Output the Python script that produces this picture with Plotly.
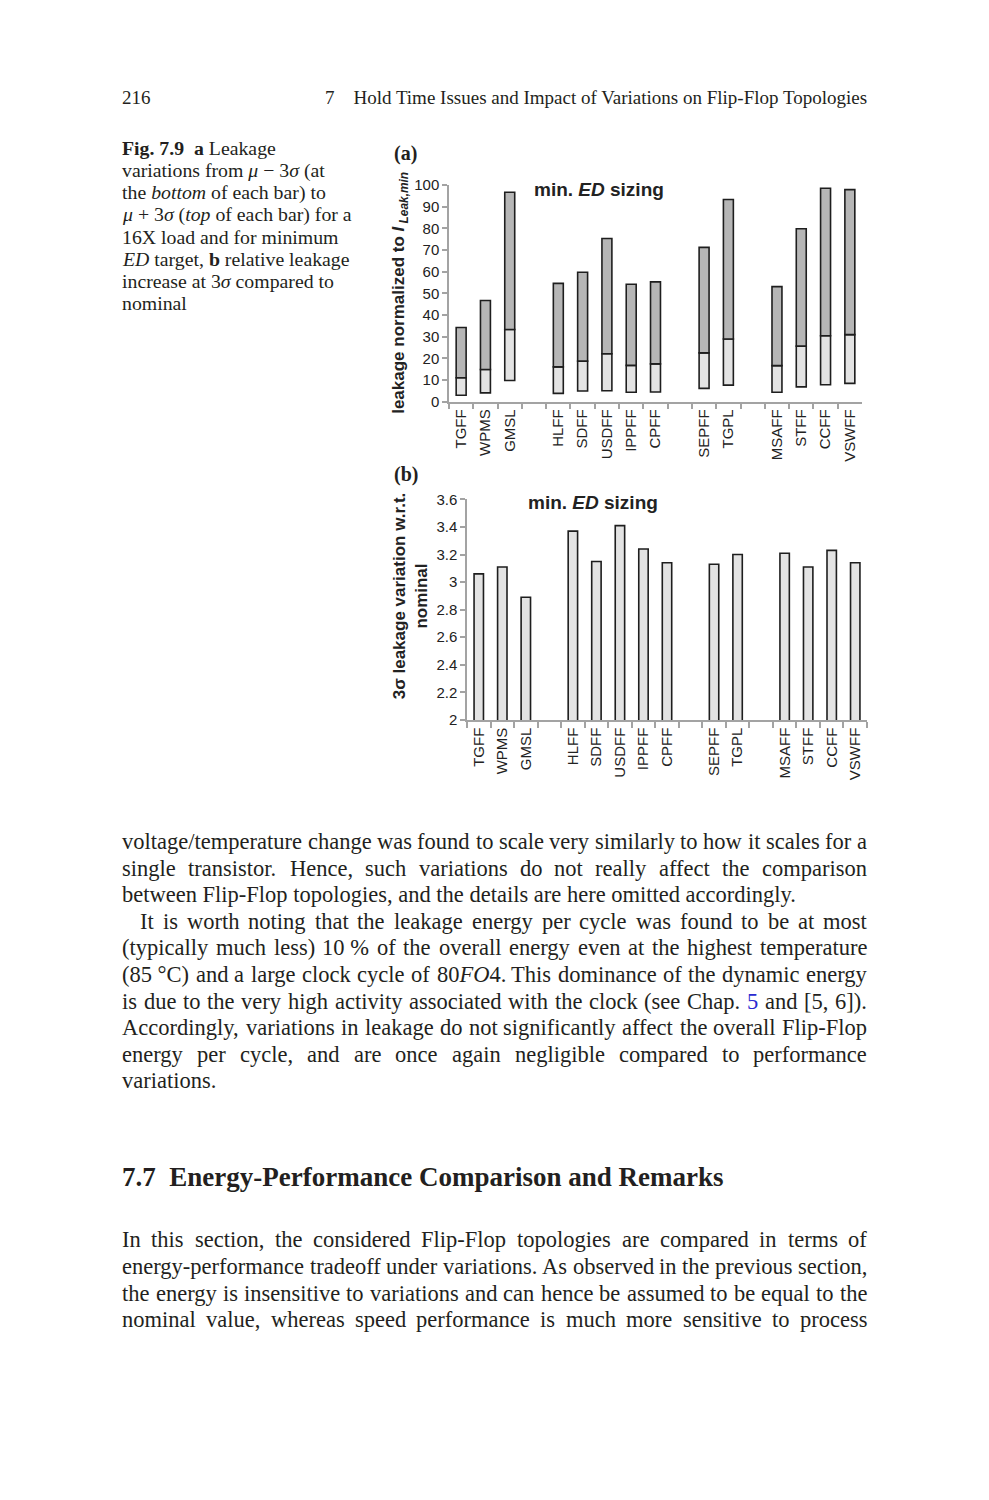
import re
import plotly.graph_objects as go

# category slots (blank slots are the gaps between flip-flop families)
slots = ["TGFF", "WPMS", "GMSL", " ",
         "HLFF", "SDFF", "USDFF", "IPPFF", "CPFF", "  ",
         "SEPFF", "TGPL", "   ",
         "MSAFF", "STFF", "CCFF", "VSWFF"]

# (a) leakage normalized to I_Leak,min : mu-3sigma / nominal / mu+3sigma
leak_low = [2.9, 4.0, 9.7, None, 3.8, 4.9, 5.0, 4.3, 4.4, None, 6.1, 7.6, None, 4.3, 6.8, 7.8, 8.4]
leak_nom = [11.0, 14.8, 33.3, None, 16.0, 18.7, 22.1, 16.7, 17.4, None, 22.5, 28.9, None, 16.6, 25.6, 30.4, 30.9]
leak_high = [34.2, 46.7, 96.7, None, 54.6, 59.7, 75.3, 54.2, 55.3, None, 71.2, 93.3, None, 53.1, 79.8, 98.5, 97.9]

# (b) 3 sigma leakage variation w.r.t. nominal
ratio_3s = [3.06, 3.11, 2.89, None, 3.37, 3.15, 3.41, 3.24, 3.14, None, 3.13, 3.20, None, 3.21, 3.11, 3.23, 3.14]

low_seg = [None if a is None else round(b - a, 2) for a, b in zip(leak_low, leak_nom)]
high_seg = [None if a is None else round(b - a, 2) for a, b in zip(leak_nom, leak_high)]

# page text
header_left = "216"
header_right = "7\u2003Hold Time Issues and Impact of Variations on Flip-Flop Topologies"
caption = [
    "<b>Fig. 7.9</b>\u2002<b>a</b> Leakage",
    "variations from <i>\u03bc</i> \u2212 3<i>\u03c3</i> (at",
    "the <i>bottom</i> of each bar) to",
    "<i>\u03bc</i> + 3<i>\u03c3</i> (<i>top</i> of each bar) for a",
    "16X load and for minimum",
    "<i>ED</i> target, <b>b</b> relative leakage",
    "increase at 3<i>\u03c3</i> compared to",
    "nominal",
]
# (text, justified, indented)
para1 = [
    ("voltage/temperature change was found to scale very similarly to how it scales for a", True, False),
    ("single transistor. Hence, such variations do not really affect the comparison", True, False),
    ("between Flip-Flop topologies, and the details are here omitted accordingly.", False, False),
    ("It is worth noting that the leakage energy per cycle was found to be at most", True, True),
    ("(typically much less) 10\u00a0% of the overall energy even at the highest temperature", True, False),
    ("(85\u00a0\u00b0C) and a large clock cycle of 80<i>FO</i>4. This dominance of the dynamic energy", True, False),
    ("is due to the very high activity associated with the clock (see Chap. <span style='color:#2a2ad0'>5</span> and [5, 6]).", True, False),
    ("Accordingly, variations in leakage do not significantly affect the overall Flip-Flop", True, False),
    ("energy per cycle, and are once again negligible compared to performance", True, False),
    ("variations.", False, False),
]
heading = "7.7\u2002Energy-Performance Comparison and Remarks"
para2 = [
    ("In this section, the considered Flip-Flop topologies are compared in terms of", True, False),
    ("energy-performance tradeoff under variations. As observed in the previous section,", True, False),
    ("the energy is insensitive to variations and can hence be assumed to be equal to the", True, False),
    ("nominal value, whereas speed performance is much more sensitive to process", True, False),
]

# the html body keeps its 8px margin, so the figure starts 8px in
OFF = 8
W, H = 989 - OFF, 1500 - OFF
SERIF = "Liberation Serif"
SANS = "Liberation Sans"
INK = "#231f20"
AXIS = "#a3a3a3"

# Times-compatible advance widths (per 1000 em) for justifying body lines
tw = {" ": 250, "\u00a0": 250, ".": 250, ",": 250, "-": 333, "/": 278, "(": 333, ")": 333,
      "[": 333, "]": 333, "%": 833, "\u00b0": 400, ":": 278, ";": 278}
tw.update(zip("abcdefghijklmnopqrstuvwxyz",
              [444, 500, 444, 500, 444, 333, 500, 500, 278, 278, 500, 278, 778,
               500, 500, 500, 500, 333, 389, 278, 500, 500, 722, 500, 500, 444]))
tw.update(zip("ABCDEFGHIJKLMNOPQRSTUVWXYZ",
              [722, 667, 667, 722, 611, 556, 722, 722, 333, 389, 722, 611, 889,
               722, 722, 556, 722, 667, 556, 611, 722, 722, 944, 722, 722, 611]))
tw.update({d: 500 for d in "0123456789"})


def text_w(s, size):
    plain = re.sub(r"<[^>]+>", "", s)
    return sum(tw.get(c, 500) for c in plain) * size / 1000.0


def px(x, y):
    # screen pixel -> paper coordinates
    return (x - OFF) / W, 1 - (y - OFF) / H


def xdom(a, b):
    return [(a - OFF) / W, (b - OFF) / W]


def ydom(top, bottom):
    return [1 - (bottom - OFF) / H, 1 - (top - OFF) / H]


annotations = []


def put(x, y, text, size, font=SERIF, anchor="left", color=INK, **kw):
    xx, yy = px(x, y)
    annotations.append(dict(x=xx, y=yy, xref="paper", yref="paper", text=text, showarrow=False,
                            xanchor=anchor, yanchor="middle", borderpad=0, borderwidth=0,
                            font=dict(family=font, size=size, color=color), **kw))


def body(lines, top, gap=26.9, left=122, right=867, size=22.5, indent=18):
    for i, (line, just, ind) in enumerate(lines):
        y = top + i * gap
        x0 = left + (indent if ind else 0)
        if not just:
            put(x0, y, line, size)
            continue
        words = re.split(r" (?![^<]*>)", line)
        ws = [text_w(w, size) for w in words]
        sp = (right - x0 - sum(ws)) / (len(words) - 1)
        x = x0
        for w, wd in zip(words, ws):
            put(x, y, w, size)
            x += wd + sp


# header
put(122, 89, header_left, 19)
put(867, 89, header_right, 19, anchor="right")

# caption
for i, line in enumerate(caption):
    put(122, 141 + i * 22.4, line, 19.8)

# body text
body(para1, 842)
put(122, 1181, "<b>" + heading + "</b>", 27)
body(para2, 1245)

# panel labels and chart texts
put(394, 146, "<b>(a)</b>", 20)
put(394, 471, "<b>(b)</b>", 20)
put(599, 182, "<b>min. <i>ED</i> sizing</b>", 19, font=SANS, anchor="center", color="#222")
put(593, 499, "<b>min. <i>ED</i> sizing</b>", 19, font=SANS, anchor="center", color="#222")
put(400, 287, "<b>leakage normalized to <i>I</i><sub><i> Leak,min</i></sub></b>", 17,
    font=SANS, anchor="center", color="#222", textangle=-90)
put(410, 594, "<b>3\u03c3 leakage variation w.r.t.<br>nominal</b>", 17,
    font=SANS, anchor="center", color="#222", textangle=-90)

bar_line = dict(color="#1e1e1e", width=1.6)
fig = go.Figure()
fig.add_trace(go.Bar(x=slots, y=low_seg, base=leak_low, width=0.41,
                     marker=dict(color="#e3e3e3", line=bar_line), xaxis="x", yaxis="y"))
fig.add_trace(go.Bar(x=slots, y=high_seg, base=leak_nom, width=0.41,
                     marker=dict(color="#b6b6b6", line=bar_line), xaxis="x", yaxis="y"))
fig.add_trace(go.Bar(x=slots, y=ratio_3s, width=0.4,
                     marker=dict(color="#e3e3e3", line=bar_line), xaxis="x2", yaxis="y2"))

xcommon = dict(type="category", categoryorder="array", categoryarray=slots, tickson="boundaries",
               ticks="outside", ticklen=6, tickcolor=AXIS, tickwidth=1.5, showline=True,
               linecolor=AXIS, linewidth=1.5, tickangle=-90, showgrid=False,
               tickfont=dict(family=SANS, size=15, color="#222"))
ycommon = dict(ticks="outside", ticklen=5, tickcolor=AXIS, tickwidth=1.5, showline=True,
               linecolor=AXIS, linewidth=1.5, showgrid=False, zeroline=False,
               tickfont=dict(family=SANS, size=15, color="#222"))

fig.update_layout(
    width=W, height=H, margin=dict(l=0, r=0, t=0, b=0),
    paper_bgcolor="white", plot_bgcolor="white", showlegend=False, barmode="overlay",
    xaxis=dict(domain=xdom(449, 862), anchor="y", **xcommon),
    yaxis=dict(domain=ydom(178, 397), anchor="x", range=[0, 100], dtick=10, **ycommon),
    xaxis2=dict(domain=xdom(467, 867), anchor="y2", **xcommon),
    yaxis2=dict(domain=ydom(496, 719), anchor="x2", range=[2, 3.6], dtick=0.2, tick0=2,
                **ycommon),
    annotations=annotations,
)

fig.write_html("out.html")
